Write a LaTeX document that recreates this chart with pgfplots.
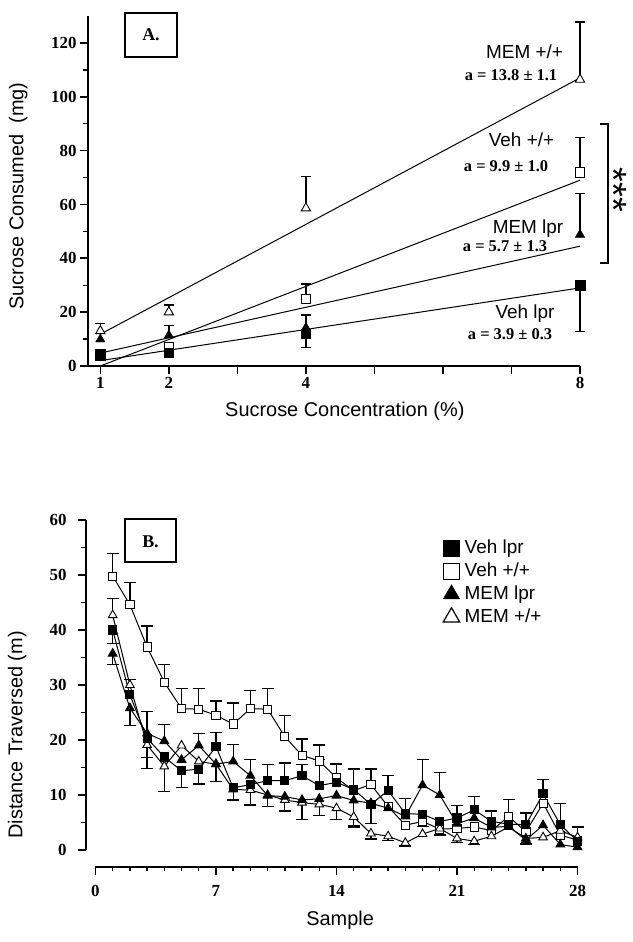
\documentclass[border=0pt]{standalone}
\usepackage{pgfplots}
\pgfplotsset{compat=1.18}
\usepackage{pgfplotstable}
\usepackage{fontspec}
\setmainfont{Liberation Serif}
\newfontfamily\sans{Liberation Sans}

% Panel B means: Veh lpr, Veh +/+, MEM lpr, MEM +/+
\pgfplotstableread{
s  vl   vw   ml   mw
1  40.0 49.8 35.7 42.7
2  28.2 44.6 25.8 30.0
3  20.3 36.9 21.2 19.1
4  16.9 30.5 19.8 15.2
5  14.4 25.7 16.4 19.0
6  14.7 25.6 19.0 16.1
7  18.8 24.5 15.6 15.6
8  11.3 22.9 16.1 11.0
9  11.9 25.7 13.5 10.9
10 12.6 25.6 9.9  10.0
11 12.6 20.6 9.7  9.1
12 13.5 17.2 9.1  8.6
13 11.7 16.2 9.3  8.3
14 12.3 13.1 9.9  7.6
15 11.0 10.8 9.0  6.0
16 8.3  11.9 8.5  3.0
17 10.8 7.9  7.6  2.5
18 6.6  4.5  6.1  1.3
19 6.5  5.2  11.8 2.9
20 5.2  3.8  10.0 3.9
21 5.8  3.9  4.8  2.1
22 7.3  4.2  5.8  1.6
23 5.2  3.5  4.1  2.5
24 4.7  6.1  4.3  4.2
25 4.6  3.3  1.8  2.1
26 10.2 8.5  4.5  2.3
27 4.6  2.7  1.0  3.5
28 1.6  1.8  0.5  2.3
}\datab

\pgfplotsset{
  common/.style={
    scale only axis,
    axis line style={line width=2bp,-},
    tick align=outside,
    major tick length=8bp, minor tick length=4.5bp,
    major tick style={line width=1.6bp, black},
    minor tick style={line width=1.4bp, black},
    /pgf/number format/assume math mode=true,
    ticklabel style={font=\fontsize{17}{17}\selectfont\bfseries},
    label style={font=\sans\fontsize{20}{20}\selectfont},
    clip=false,
  },
  ebup/.style={forget plot, only marks, mark=none, error bars/.cd, y dir=plus, y explicit,
    error bar style={line width=1.3bp, black},
    error mark options={rotate=90, line width=1.3bp, mark size=#1, black}},
  ebdn/.style={forget plot, only marks, mark=none, error bars/.cd, y dir=minus, y explicit,
    error bar style={line width=1.3bp, black},
    error mark options={rotate=90, line width=1.3bp, mark size=#1, black}},
}

\begin{document}
\begin{tikzpicture}
\useasboundingbox (0,0) rectangle (633bp,942bp);

% ---------------- Panel A ----------------
\begin{axis}[common,
  at={(88bp,576bp)}, anchor=south west, width=492bp, height=350bp,
  xmin=0.82, xmax=8, ymin=0, ymax=130,
  axis x line*=bottom, axis y line*=left,
  xtick={1,...,8}, xticklabels={1,2,,4,,,,8},
  ytick={0,20,...,120}, minor ytick={10,30,...,110},
  xlabel={Sucrose Concentration (\%)},
  ylabel={Sucrose Consumed\ \ (mg)},
  x label style={at={(axis description cs:0.522,-0.129)}, anchor=center},
  y label style={at={(axis description cs:-0.142,0.486)}, anchor=center},
]
% regression lines
\addplot[black, line width=1bp] coordinates {(1,11.8) (8,107)};
\addplot[black, line width=1bp] coordinates {(1,0) (8,69)};
\addplot[black, line width=1bp] coordinates {(1,4.8) (8,44.5)};
\addplot[black, line width=1bp] coordinates {(1,2) (8,29)};
% error bars
\addplot[ebup=5bp] coordinates {(1,13) +- (0,2.7) (2,20) +- (0,2.6) (4,58.6) +- (0,11.8) (8,106.4) +- (0,21.4)};
\addplot[ebup=5bp] coordinates {(4,24.9) +- (0,5.6) (8,71.9) +- (0,12.9)};
\addplot[ebup=5bp] coordinates {(2,11.4) +- (0,3.7) (4,14.2) +- (0,4.7) (8,48.8) +- (0,15.2)};
\addplot[ebdn=5bp] coordinates {(4,12.1) +- (0,5.3) (8,30) +- (0,17.3)};
% MEM +/+
\addplot[black, only marks, mark=triangle*, mark size=5.4bp,
  mark options={fill=white, line width=0.9bp}] coordinates {(1,13) (2,20) (4,58.6) (8,106.4)};
% Veh +/+
\addplot[black, only marks, mark=square*, mark size=4.7bp,
  mark options={fill=white, line width=0.9bp}] coordinates {(1,4.5) (2,7) (4,24.9) (8,71.9)};
% MEM lpr
\addplot[black, only marks, mark=triangle*, mark size=5.4bp] coordinates {(1,9.9) (2,11.4) (4,14.2) (8,48.8)};
% Veh lpr
\addplot[black, only marks, mark=square*, mark size=4.7bp] coordinates {(1,4) (2,4.9) (4,12.1) (8,30)};
\end{axis}

% ---------------- Panel B ----------------
\begin{axis}[common,
  at={(86bp,75.3bp)}, anchor=south west, width=491.5bp, height=346.7bp,
  xmin=-0.55, xmax=28, ymin=-3.04, ymax=60,
  axis x line*=bottom, axis y line*=left,
  axis line style={draw=none},
  xtick={0,7,14,21,28}, minor xtick={1,...,27},
  ytick={0,10,...,60}, minor ytick={5,15,...,55},
  xticklabel style={yshift=-7bp},
  yticklabel style={xshift=-8bp},
  xlabel={Sample},
  ylabel={Distance Traversed (m)},
  x label style={at={(axis description cs:0.517,-0.154)}, anchor=center},
  y label style={at={(axis description cs:-0.140,0.38)}, anchor=center},
  legend style={at={(axis cs:20.19,56.9)}, anchor=north west, draw=none,
    fill=none, inner sep=0pt, row sep=1bp,
    font=\sans\fontsize{19}{19}\selectfont,
    nodes={inner sep=2bp, text height=14bp, text depth=4bp},
    /tikz/every odd column/.style={column sep=3bp}},
  legend cell align=left,
]
\draw[line width=2bp] (axis cs:-0.55,0) -- (axis cs:-0.55,60);
\draw[line width=2bp] (axis cs:0,-3.04) -- (axis cs:28,-3.04);

% error bars: Veh +/+ (up)
\addplot[ebup=6bp] coordinates {(1,49.8) +- (0,4.1) (2,44.6) +- (0,4.0) (3,36.9) +- (0,3.8)
  (4,30.5) +- (0,3.2) (5,25.7) +- (0,3.7) (6,25.6) +- (0,3.7) (7,24.5) +- (0,2.6)
  (8,22.9) +- (0,3.8) (9,25.7) +- (0,3.3) (10,25.6) +- (0,3.8) (11,20.6) +- (0,3.8)
  (12,17.2) +- (0,3.0) (13,16.2) +- (0,2.9) (14,13.1) +- (0,2.6) (16,11.9) +- (0,2.8)
  (24,6.1) +- (0,3.1)};
% Veh lpr
\addplot[ebup=6bp] coordinates {(3,20.3) +- (0,4.9) (7,18.8) +- (0,2.6) (10,12.6) +- (0,3.0)
  (11,12.6) +- (0,3.2) (12,13.5) +- (0,2.0) (13,11.7) +- (0,4.8) (14,12.3) +- (0,3.3)
  (15,11.0) +- (0,3.7) (17,10.8) +- (0,2.8) (18,6.6) +- (0,2.7) (21,5.8) +- (0,2.3)
  (22,7.3) +- (0,2.4) (23,5.2) +- (0,1.9) (25,4.6) +- (0,2.1) (26,10.2) +- (0,2.6)
  (27,4.6) +- (0,3.8) (28,1.6) +- (0,2.6)};
\addplot[ebdn=6bp] coordinates {(1,40.0) +- (0,2.5) (3,20.3) +- (0,5.5) (5,14.4) +- (0,3.0)
  (6,14.7) +- (0,2.7) (8,11.3) +- (0,2.2) (16,8.3) +- (0,3.5) (19,6.5) +- (0,2.2)};
% MEM lpr
\addplot[ebup=6bp] coordinates {(4,19.8) +- (0,3.0) (6,19.0) +- (0,2.2) (8,16.1) +- (0,3.1)
  (9,13.5) +- (0,3.0) (19,11.8) +- (0,4.7) (20,10.0) +- (0,4.1)};
\addplot[ebdn=6bp] coordinates {(1,35.7) +- (0,2.0) (2,25.8) +- (0,3.2) (7,15.6) +- (0,3.2)
  (11,9.7) +- (0,2.6) (15,9.0) +- (0,4.5)};
% MEM +/+
\addplot[ebup=6bp] coordinates {(1,42.7) +- (0,3.0) (2,30.0) +- (0,1.0)};
\addplot[ebdn=6bp] coordinates {(3,19.1) +- (0,2.3) (4,15.2) +- (0,4.6) (8,11.0) +- (0,1.9)
  (9,10.9) +- (0,2.7) (10,10.0) +- (0,2.1) (11,9.1) +- (0,2.0) (12,8.6) +- (0,3.1)
  (13,8.3) +- (0,2.0) (14,7.6) +- (0,2.0) (15,6.0) +- (0,1.8) (16,3.0) +- (0,1.0)
  (17,2.5) +- (0,0.8) (18,1.3) +- (0,0.6) (20,3.9) +- (0,1.2) (21,2.1) +- (0,0.8)
  (22,1.6) +- (0,0.6) (25,2.1) +- (0,1.0)};

% series
\addplot[forget plot, black, line width=1bp, mark=square*, mark size=4.1bp,
  mark options={fill=white, line width=0.9bp}] table[x=s, y=vw] {\datab};
\addplot[forget plot, black, line width=1bp, mark=triangle*, mark size=5bp,
  mark options={fill=white, line width=0.9bp}] table[x=s, y=mw] {\datab};
\addplot[forget plot, black, line width=1bp, mark=triangle*, mark size=5bp] table[x=s, y=ml] {\datab};
\addplot[forget plot, black, line width=1bp, mark=square*, mark size=4.1bp] table[x=s, y=vl] {\datab};

\addlegendimage{only marks, black, mark=square*, mark size=8bp}
\addlegendentry{Veh lpr}
\addlegendimage{only marks, black, mark=square*, mark size=8bp, mark options={fill=white, line width=1.2bp}}
\addlegendentry{Veh +/+}
\addlegendimage{only marks, black, mark=triangle*, mark size=9.5bp}
\addlegendentry{MEM lpr}
\addlegendimage{only marks, black, mark=triangle*, mark size=9.5bp, mark options={fill=white, line width=1.2bp}}
\addlegendentry{MEM +/+}
\end{axis}

% ---------------- Annotations ----------------
\draw[line width=2bp] (125bp,885.3bp) rectangle (177bp,929.3bp);
\node[anchor=base, inner sep=0pt, font=\fontsize{18}{18}\selectfont\bfseries] at (151bp,901bp) {A.};
\draw[line width=2bp] (125bp,379.7bp) rectangle (176bp,423bp);
\node[anchor=base, inner sep=0pt, font=\fontsize{18}{18}\selectfont\bfseries] at (150.5bp,394.3bp) {B.};

\begin{scope}[every node/.style={anchor=base, inner sep=0pt}]
\node[font=\sans\fontsize{19}{19}\selectfont] at (524.5bp,883.5bp) {MEM +/+};
\node[font=\fontsize{16.5}{16.5}\selectfont\bfseries] at (511bp,861.4bp) {a = 13.8 ± 1.1};
\node[font=\sans\fontsize{19}{19}\selectfont] at (521.5bp,795.2bp) {Veh +/+};
\node[font=\fontsize{16.5}{16.5}\selectfont\bfseries] at (506bp,770.7bp) {a = 9.9 ± 1.0};
\node[font=\sans\fontsize{19}{19}\selectfont] at (528bp,708.5bp) {MEM lpr};
\node[font=\fontsize{16.5}{16.5}\selectfont\bfseries] at (505bp,690.7bp) {a = 5.7 ± 1.3};
\node[font=\sans\fontsize{19}{19}\selectfont] at (525bp,623.5bp) {Veh lpr};
\node[font=\fontsize{16.5}{16.5}\selectfont\bfseries] at (510bp,602.4bp) {a = 3.9 ± 0.3};
\end{scope}

\draw[line width=1.6bp] (600bp,817.7bp) -- (608bp,817.7bp) -- (608bp,678.7bp) -- (600bp,678.7bp);
\node[rotate=-90, inner sep=0pt, font=\sans\fontsize{38}{38}\selectfont] at (614bp,752bp) {***};
\end{tikzpicture}
\end{document}
